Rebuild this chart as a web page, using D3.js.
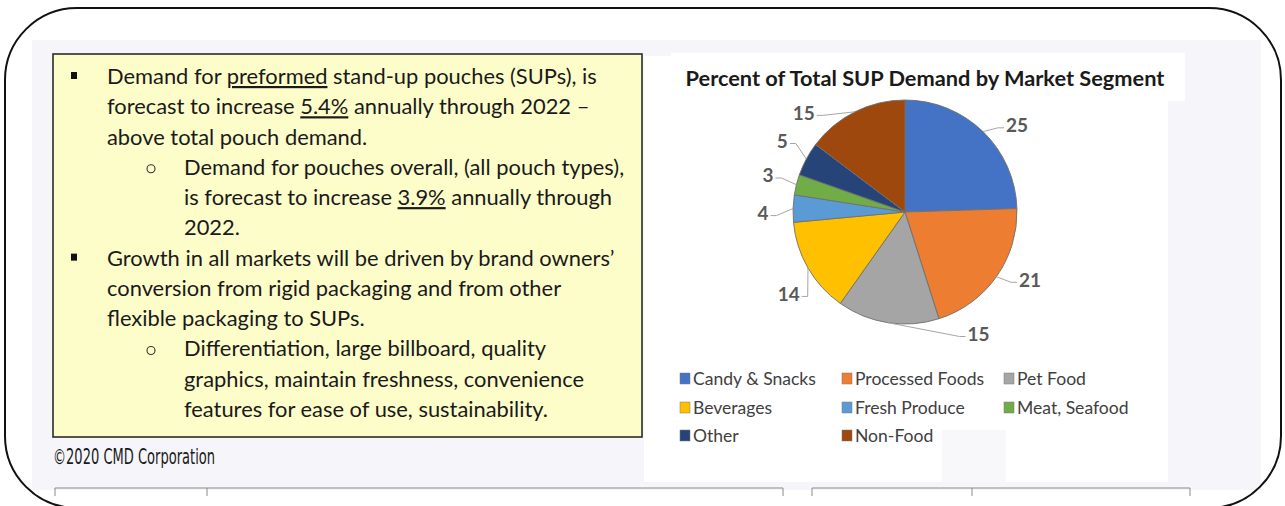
<!DOCTYPE html>
<html>
<head>
<meta charset="utf-8">
<script src="https://cdn.jsdelivr.net/npm/d3@7/dist/d3.min.js"></script>
<style>
  body { margin: 0; background: #ffffff; }
  svg { display: block; }
</style>
</head>
<body>
<svg id="slide" width="1285" height="506"></svg>
<script>
// Pie data: market segments and their share of total SUP demand (%)
const segments = ['Candy & Snacks', 'Processed Foods', 'Pet Food', 'Beverages',
                  'Fresh Produce', 'Meat, Seafood', 'Other', 'Non-Food'];
const shares = [25, 21, 15, 14, 4, 3, 5, 15];
const segmentColors = ['#4472C4', '#ED7D31', '#A5A5A5', '#FFC000',
                       '#5B9BD5', '#70AD47', '#264478', '#9E480E'];
const chartTitle = 'Percent of Total SUP Demand by Market Segment';

// Text box on the left, underscores mark the underlined words
const noteLines = [
  'Demand for _preformed_ stand-up pouches (SUPs), is',
  'forecast to increase _5.4%_ annually through 2022 –',
  'above total pouch demand.',
  'Demand for pouches overall, (all pouch types),',
  'is forecast to increase _3.9%_ annually through',
  '2022.',
  'Growth in all markets will be driven by brand owners’',
  'conversion from rigid packaging and from other',
  'flexible packaging to SUPs.',
  'Differentiation, large billboard, quality',
  'graphics, maintain freshness, convenience',
  'features for ease of use, sustainability.'
];
const noteLevels = [0, 0, 0, 1, 1, 1, 0, 0, 0, 1, 1, 1];
const noteBullets = [1, 0, 0, 1, 0, 0, 1, 0, 0, 1, 0, 0];
const footer = '©2020 CMD Corporation';

const FONT = 'Lato, "Open Sans", sans-serif';
const svg = d3.select('#slide');

// measure a string at 100px so we can pick a font size that fits a width
function fitSize(text, weight, width) {
  const t = svg.append('text')
    .style('font-family', FONT)
    .style('font-weight', weight)
    .style('font-size', '100px')
    .text(text);
  const w = t.node().getComputedTextLength();
  t.remove();
  return 100 * width / w;
}

function drawBackground() {
  // light grey slide panel
  svg.append('rect')
    .attr('x', 32).attr('y', 40).attr('width', 1229).attr('height', 450)
    .attr('fill', '#f6f6fa');

  // white area behind the chart
  svg.append('rect')
    .attr('x', 644).attr('y', 100).attr('width', 524).attr('height', 382)
    .attr('fill', '#ffffff');
  svg.append('rect')
    .attr('x', 671).attr('y', 53).attr('width', 514).attr('height', 48)
    .attr('fill', '#ffffff');
  svg.append('rect')
    .attr('x', 644).attr('y', 56).attr('width', 30).attr('height', 46)
    .attr('fill', '#ffffff');
  svg.append('rect')
    .attr('x', 942).attr('y', 430).attr('width', 64).attr('height', 52)
    .attr('fill', '#f8f8fb');

  // table edges at the bottom of the slide
  const tableLines = [[55, 783, [55, 207, 783]], [812, 1190, [812, 972, 1190]]];
  tableLines.forEach(function(l) {
    svg.append('line')
      .attr('x1', l[0]).attr('x2', l[1]).attr('y1', 488).attr('y2', 488)
      .attr('stroke', '#8a8a8a').attr('stroke-width', 1.2);
    l[2].forEach(function(x) {
      svg.append('line')
        .attr('x1', x).attr('x2', x).attr('y1', 488).attr('y2', 496)
        .attr('stroke', '#8a8a8a').attr('stroke-width', 1);
    });
  });
}

function drawNotes() {
  svg.append('rect')
    .attr('x', 53).attr('y', 54).attr('width', 589).attr('height', 383)
    .attr('fill', '#fdfdc9')
    .attr('stroke', '#2b2b2b').attr('stroke-width', 1.6);

  const size = fitSize(noteLines[0].replace(/_/g, ''), 400, 490);
  const lineY = d3.scaleLinear().domain([0, noteLines.length - 1]).range([84, 417]);

  noteLines.forEach(function(line, i) {
    const x = noteLevels[i] === 0 ? 107 : 184;
    const y = lineY(i);

    if (noteBullets[i]) {
      if (noteLevels[i] === 0) {
        svg.append('rect')
          .attr('x', 71).attr('y', y - 12).attr('width', 6).attr('height', 7)
          .attr('fill', '#111');
      } else {
        svg.append('circle')
          .attr('cx', 151).attr('cy', y - 6).attr('r', 4)
          .attr('fill', 'none').attr('stroke', '#333').attr('stroke-width', 1.1);
      }
    }

    const t = svg.append('text')
      .attr('x', x).attr('y', y)
      .style('font-family', FONT)
      .style('font-size', size + 'px')
      .attr('fill', '#1a1a1a');

    line.split('_').forEach(function(part, k) {
      if (part === '') return;
      t.append('tspan')
        .style('text-decoration', k % 2 === 1 ? 'underline' : 'none')
        .text(part);
    });
  });

  // copyright line (condensed face)
  svg.append('text')
    .attr('x', 53).attr('y', 464)
    .attr('textLength', 162).attr('lengthAdjust', 'spacingAndGlyphs')
    .style('font-family', '"Liberation Sans Narrow", "DejaVu Sans Condensed", sans-serif')
    .style('font-size', '21px')
    .attr('fill', '#1a1a1a')
    .text(footer);
}

function drawPie() {
  const cx = 905, cy = 212, r = 112;

  // title
  svg.append('text')
    .attr('x', 925).attr('y', 86)
    .attr('text-anchor', 'middle')
    .style('font-family', FONT)
    .style('font-weight', 700)
    .style('font-size', fitSize(chartTitle, 700, 479) + 'px')
    .attr('fill', '#1a1a1a')
    .text(chartTitle);

  const pie = d3.pie().sort(null).value(d => d);
  const arcs = pie(shares);
  const arc = d3.arc().innerRadius(0).outerRadius(r);

  const g = svg.append('g').attr('transform', `translate(${cx},${cy})`);

  g.selectAll('path.slice')
    .data(arcs)
    .join('path')
      .attr('class', 'slice')
      .attr('d', arc)
      .attr('fill', (d, i) => segmentColors[i])
      .attr('stroke', '#6f6f6f')
      .attr('stroke-width', 0.9);

  // data labels, pushed around a little like Excel's best fit placement
  const labelNudge = [8, -7, -40, -5, -2, 1, 2, -19];
  const labelR = 142;
  const deg = Math.PI / 180;
  const labelSize = fitSize('25', 700, 22);

  arcs.forEach(function(d, i) {
    const mid = (d.startAngle + d.endAngle) / 2;
    const la = mid + labelNudge[i] * deg;
    const lx = Math.sin(la) * labelR;
    const ly = -Math.cos(la) * labelR;
    const ex = Math.sin(mid) * r;
    const ey = -Math.cos(mid) * r;

    const t = g.append('text')
      .attr('x', lx).attr('y', ly)
      .attr('text-anchor', 'middle')
      .attr('dominant-baseline', 'central')
      .style('font-family', FONT)
      .style('font-weight', 700)
      .style('font-size', labelSize + 'px')
      .attr('fill', '#595959')
      .text(shares[i]);

    const hw = t.node().getComputedTextLength() / 2;
    const side = lx > 0 ? -1 : 1;
    const ax = lx + side * (hw + 2);
    const ayy = ly + 3;

    g.append('polyline')
      .attr('points', [[ex, ey], [ax + side * 6, ayy], [ax, ayy]].map(p => p.join(',')).join(' '))
      .attr('fill', 'none')
      .attr('stroke', '#a6a6a6')
      .attr('stroke-width', 1);
  });

  // legend, three columns
  const colX = [680, 842, 1004];
  const rowY = [378, 407, 435];
  const legendSize = fitSize('Candy & Snacks', 400, 123);

  segments.forEach(function(name, i) {
    const x = colX[i % 3];
    const y = rowY[Math.floor(i / 3)];
    svg.append('rect')
      .attr('x', x).attr('y', y - 5).attr('width', 10).attr('height', 11)
      .attr('fill', segmentColors[i])
      .attr('stroke', '#7a7a7a').attr('stroke-width', 0.5);
    svg.append('text')
      .attr('x', x + 13).attr('y', y)
      .attr('dominant-baseline', 'central')
      .style('font-family', FONT)
      .style('font-size', legendSize + 'px')
      .attr('fill', '#404040')
      .text(name);
  });
}

function drawFrame() {
  // rounded outline around the whole slide
  svg.append('rect')
    .attr('x', 5).attr('y', 8).attr('width', 1276).attr('height', 500)
    .attr('rx', 72).attr('ry', 72)
    .attr('fill', 'none')
    .attr('stroke', '#111')
    .attr('stroke-width', 2);
}

window.onload = () => {
  drawBackground();
  drawNotes();
  drawPie();
  drawFrame();
};
</script>
</body>
</html>
